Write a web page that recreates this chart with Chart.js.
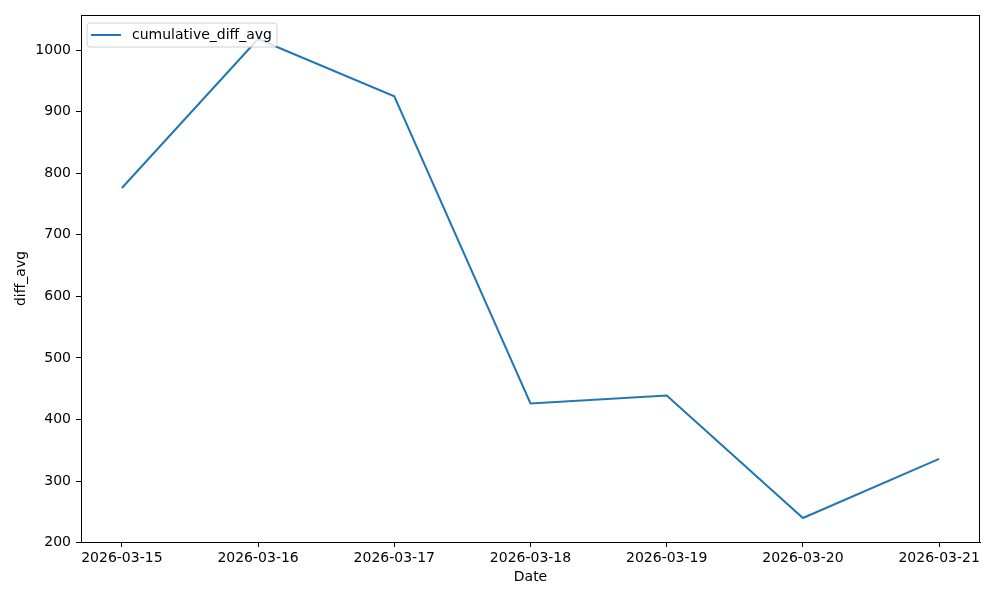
<!DOCTYPE html>
<html>
<head>
<meta charset="utf-8">
<script src="https://cdn.jsdelivr.net/npm/chart.js@4/dist/chart.umd.min.js"></script>
<style>
  body { margin: 0; background: #fff; }
  #wrap { width: 1000px; height: 600px; }
</style>
</head>
<body>
<div id="wrap"><canvas id="chart" width="1000" height="600"></canvas></div>
<script>
const dates = ["2026-03-15", "2026-03-16", "2026-03-17", "2026-03-18", "2026-03-19", "2026-03-20", "2026-03-21"];
const diffAvg = [776, 1018, 925, 426, 439, 240, 336];
const yTicks = [200, 300, 400, 500, 600, 700, 800, 900, 1000];

const FONT = "'DejaVu Sans', sans-serif";

// legend drawn inside the plot, upper left like matplotlib
const innerLegend = {
  id: "innerLegend",
  afterDraw(chart) {
    const ctx = chart.ctx;
    const ds = chart.data.datasets[0];
    const x = chart.chartArea.left + 6;
    const y = chart.chartArea.top + 8;
    ctx.save();
    ctx.font = "14px " + FONT;
    const w = 45 + ctx.measureText(ds.label).width + 5;
    const h = 24;
    ctx.beginPath();
    ctx.roundRect(x, y, w, h, 3);
    ctx.fillStyle = "rgba(255,255,255,0.8)";
    ctx.fill();
    ctx.strokeStyle = "#d0d0d0";
    ctx.lineWidth = 1;
    ctx.stroke();
    ctx.beginPath();
    ctx.moveTo(x + 4, y + 12);
    ctx.lineTo(x + 34, y + 12);
    ctx.strokeStyle = ds.borderColor;
    ctx.lineWidth = 2;
    ctx.stroke();
    ctx.fillStyle = "#000";
    ctx.textBaseline = "middle";
    ctx.fillText(ds.label, x + 45, y + 12.5);
    ctx.restore();
  }
};

const ctx = document.getElementById("chart").getContext("2d");
new Chart(ctx, {
  type: "line",
  data: {
    datasets: [{
      label: "cumulative_diff_avg",
      data: diffAvg.map((v, i) => ({ x: i, y: v })),
      borderColor: "#1f77b4",
      borderWidth: 2,
      pointRadius: 0,
      tension: 0,
      fill: false
    }]
  },
  options: {
    responsive: false,
    animation: false,
    layout: { padding: { top: 15, right: 20, bottom: 0, left: 0 } },
    plugins: {
      legend: { display: false },
      tooltip: { enabled: false }
    },
    scales: {
      x: {
        type: "linear",
        min: -0.3,
        max: 6.3,
        afterBuildTicks: (s) => { s.ticks = dates.map((d, i) => ({ value: i })); },
        afterFit: (s) => { s.height = 58; },
        ticks: {
          callback: (v) => dates[v],
          color: "#000",
          font: { family: FONT, size: 14 },
          padding: 3,
          maxRotation: 0,
          autoSkip: false
        },
        grid: { drawOnChartArea: false, tickLength: 5, color: "#000", tickWidth: 1 },
        border: { color: "#000", width: 1 },
        title: {
          display: true,
          text: "Date",
          color: "#000",
          font: { family: FONT, size: 14 },
          padding: { top: 0, bottom: 14 }
        }
      },
      y: {
        min: 201,
        max: 1057,
        afterBuildTicks: (s) => { s.ticks = yTicks.map((v) => ({ value: v })); },
        afterFit: (s) => { s.width = 81; },
        ticks: {
          callback: (v) => String(v),
          color: "#000",
          font: { family: FONT, size: 14 },
          padding: 5
        },
        grid: { drawOnChartArea: false, tickLength: 5, color: "#000", tickWidth: 1 },
        border: { color: "#000", width: 1 },
        title: {
          display: true,
          text: "diff_avg",
          color: "#000",
          font: { family: FONT, size: 14 },
          padding: { top: 13, bottom: 0 }
        }
      }
    }
  },
  plugins: [innerLegend, {
    id: "frame",
    afterDraw(chart) {
      const a = chart.chartArea;
      const c = chart.ctx;
      c.save();
      c.strokeStyle = "#000";
      c.lineWidth = 1;
      c.strokeRect(Math.round(a.left) + 0.5, Math.round(a.top) + 0.5, Math.round(a.width) - 1, Math.round(a.height));
      c.restore();
    }
  }]
});
</script>
</body>
</html>
